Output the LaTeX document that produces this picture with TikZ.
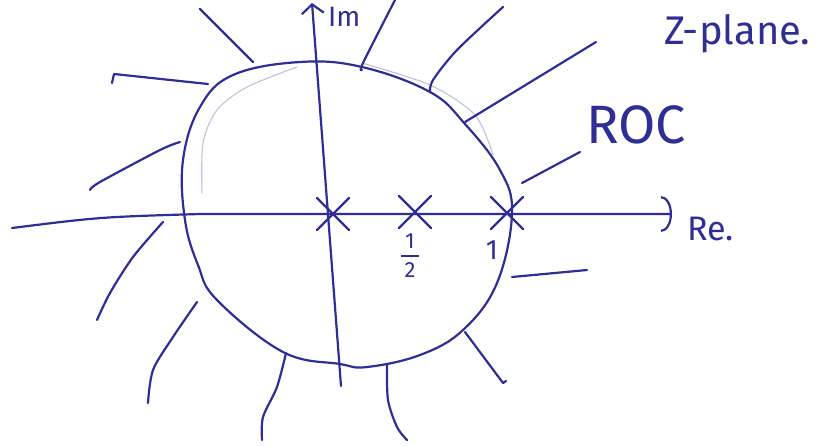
\documentclass[tikz,border=0pt]{standalone}
\usepackage{fontspec}
\setsansfont{Fira Sans}
\usetikzlibrary{arrows.meta,shapes.misc,positioning}
\definecolor{ink}{RGB}{46,46,150}

\begin{document}
\begin{tikzpicture}[x=1pt, y=-1pt, font=\sffamily, line cap=round, line join=round,
      pen/.style={draw=ink, line width=2.2pt},
      faint/.style={draw=ink!30, line width=1.1pt},
      pole/.style={draw=ink, line width=2.2pt, cross out, minimum size=30pt, inner sep=0pt},
      lbl/.style={text=ink, inner sep=0pt}]
    \useasboundingbox (0,0) rectangle (819,445);
    % axes
    \coordinate (re start) at (12,228);
    \coordinate (re end) at (672,214);
    \coordinate (im start) at (341,386);
    \coordinate (im end) at (312,3);
    \draw[pen, -{Arc Barb[length=11pt, width=36pt]}] (re start) .. controls (100,217) .. (200,214) -- (re end);
    \draw[pen, -{Straight Barb[length=9pt, width=22pt]}] (im start) -- (im end);
    % boundary of the ROC
    \draw[pen] plot[smooth cycle, tension=0.65] coordinates {(300,62) (362,67) (430,92) (465,124)
      (500,170) (512,213) (497,283) (463,330) (420,355) (367,367) (340,364) (283,352)
      (217,300) (198,265) (185,220) (183,160) (200,107) (233,75)};
    \draw[faint] plot[smooth] coordinates {(297,67) (247,87) (217,110) (203,143) (202,193)};
    \draw[faint] plot[smooth] coordinates {(362,63) (430,85) (475,115) (493,155)};
    % ROC strokes
    \draw[pen] (253,62) -- (200,9);
    \draw[pen] (208,84) -- (114,74) -- (112,83);
    \draw[pen] plot[smooth] coordinates {(180,142) (160,150) (100,182) (90,190)};
    \draw[pen] plot[smooth] coordinates {(163,222) (133,257) (110,293) (97,320)};
    \draw[pen] plot[smooth] coordinates {(197,302) (173,337) (153,370) (148,403)};
    \draw[pen] plot[smooth] coordinates {(286,353) (277,387) (263,417) (262,440)};
    \draw[pen] plot[smooth] coordinates {(387,365) (388,400) (397,427) (407,440)};
    \draw[pen] (465,332) -- (503,383) -- (506,381);
    \draw[pen] (512,277) -- (587,270);
    \draw[pen] (522,183) -- (580,152);
    \draw[pen] (465,122) -- (596,42);
    \draw[pen] plot[smooth] coordinates {(430,92) (433,80) (457,50) (503,7)};
    \draw[pen] plot[smooth] coordinates {(362,70) (363,63) (395,0)};
    % poles
    \node[pole] (p0) at (333,214) {};
    \node[pole] (phalf) at (415,212) {};
    \node[pole] (p1) at (507,213) {};
    \node[lbl, font=\sffamily\fontsize{22}{22}\selectfont] (half) at (410,256)
      {\shortstack{1\\[3pt]\rule{18pt}{1.8pt}\\[3pt]2}};
    \node[lbl, font=\sffamily\fontsize{28}{30}\selectfont] (one) at (492,250) {1};
    % labels
    \node[lbl, font=\sffamily\fontsize{28}{30}\selectfont, anchor=base west] (im) at (328,26) {Im};
    \node[lbl, font=\sffamily\fontsize{34}{36}\selectfont, anchor=base west] (re) at (687,240) {Re.};
    \node[lbl, font=\sffamily\fontsize{40}{42}\selectfont, anchor=base west] (zplane) at (664,44) {Z-plane.};
    \node[lbl, font=\sffamily\fontsize{54}{56}\selectfont, anchor=base west] (roc) at (586,143) {ROC};
\end{tikzpicture}
\end{document}
